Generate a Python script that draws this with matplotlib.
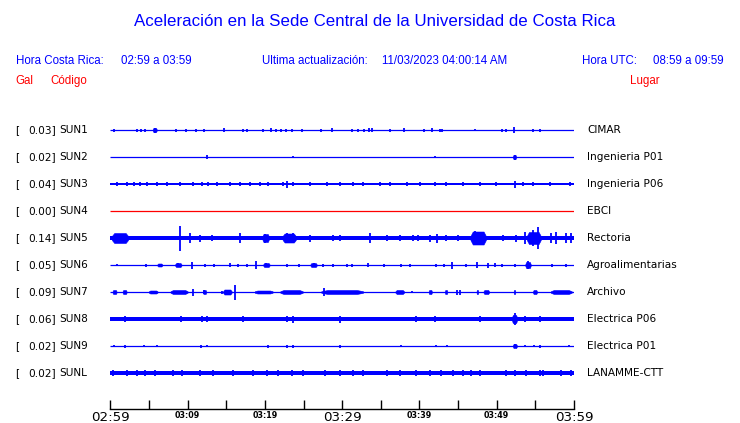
import matplotlib
matplotlib.use("Agg")
import matplotlib.pyplot as plt
from matplotlib.transforms import blended_transform_factory

# station table (top to bottom)
codes = ["SUN1", "SUN2", "SUN3", "SUN4", "SUN5", "SUN6", "SUN7", "SUN8", "SUN9", "SUNL"]
places = ["CIMAR", "Ingenieria P01", "Ingenieria P06", "EBCI", "Rectoria",
          "Agroalimentarias", "Archivo", "Electrica P06", "Electrica P01", "LANAMME-CTT"]
peak_gal = [0.03, 0.02, 0.04, 0.00, 0.14, 0.05, 0.09, 0.06, 0.02, 0.02]

# background noise half-width of each trace (pixels of the original plot)
noise = [0.5, 0.5, 1.3, 0.5, 2.0, 0.5, 0.5, 2.2, 0.5, 2.0]

# bursts: (minutes after 02:59, half-amplitude in px)
sun1_spikes = [(0.52, 1.5), (3.41, 1.5), (3.93, 1.5), (4.53, 1.5), (5.78, 2.5), (8.46, 1.5),
               (9.75, 1.5), (11.08, 1.5), (12.12, 1.5), (14.74, 2), (17.16, 1.5), (17.72, 1.5),
               (19.79, 1.5), (20.74, 2), (21.43, 1.5), (22.04, 1.5), (22.72, 1.5), (23.50, 1.5),
               (24.79, 1.5), (27.21, 1.5), (28.67, 2), (31.29, 1.5), (32.07, 1.5), (32.81, 1.5),
               (33.49, 2), (33.80, 2), (36.17, 1.5), (38.02, 2), (40.61, 1.5), (41.69, 2),
               (42.64, 1.5), (42.98, 1.5), (47.25, 1), (50.74, 1.5), (51.26, 1.5), (52.30, 3),
               (54.70, 1.5), (55.66, 1.5)]
sun2_spikes = [(12.47, 2), (23.66, 1), (42.03, 1), (52.33, 2.5)]
sun3_spikes = [(0.83, 2), (2.12, 2), (3.10, 2), (3.84, 2), (4.71, 2), (6.00, 2), (7.29, 2),
               (9.01, 2), (10.73, 2), (11.82, 2), (12.67, 2), (13.76, 2), (15.48, 2), (16.77, 2),
               (18.07, 2), (19.36, 2), (20.43, 2), (22.37, 2), (22.81, 3.5), (23.66, 2), (25.82, 2),
               (27.98, 2), (29.70, 2), (31.42, 2), (32.72, 2), (34.88, 2), (36.17, 2), (38.33, 2),
               (40.05, 2), (41.99, 2), (43.50, 2), (45.65, 2), (47.81, 2), (49.97, 2), (52.33, 3.5),
               (53.41, 2), (54.70, 2), (56.86, 2), (59.44, 2)]
sun4_spikes = []
sun5_spikes = [(9.01, 12.5), (10.31, 5), (11.60, 3.5), (13.11, 3), (16.77, 5), (20.01, 4.5),
               (22.81, 5), (23.66, 5), (25.82, 3.5), (28.84, 3), (29.70, 3), (33.58, 5), (35.74, 3),
               (37.46, 3), (39.18, 3), (39.83, 3), (41.34, 3.5), (42.21, 4.5), (43.50, 3), (45.00, 3),
               (47.2, 7), (50.82, 3), (52.55, 3.5), (53.63, 6), (54.70, 8), (55.35, 11), (57.08, 5),
               (57.73, 6), (59.02, 5), (59.67, 5)]
sun6_spikes = [(0.83, 1), (4.58, 1.5), (6.43, 1.5), (8.76, 2), (10.53, 3.5), (12.25, 1.5),
               (13.45, 1.5), (15.48, 2), (16.55, 1.5), (17.64, 1.5), (18.80, 4), (20.13, 2),
               (22.81, 1.5), (24.40, 1.5), (26.34, 2), (27.54, 1.5), (28.84, 1.5), (30.57, 1.5),
               (31.22, 1.5), (33.36, 2), (35.43, 1.5), (37.59, 1.5), (38.76, 1.5), (42.08, 1.5),
               (43.15, 1.5), (44.15, 3.5), (46.09, 1.5), (47.46, 3), (48.88, 2.5), (49.75, 2),
               (50.74, 1.5), (52.33, 1.5), (54.05, 4), (57.21, 1.5), (58.93, 1.5)]
sun7_spikes = [(10.66, 3.5), (12.12, 2), (14.41, 1.5), (16.13, 7.5), (27.67, 4), (38.98, 1),
               (44.9, 2.5), (45.3, 2.5)]
sun8_spikes = [(1.90, 3), (9.14, 3), (11.82, 3), (12.47, 3), (17.20, 3), (22.81, 3), (23.66, 3.5),
               (29.70, 3.5), (39.62, 3), (41.99, 3), (47.81, 3), (52.33, 6), (53.63, 3), (55.57, 3)]
sun9_spikes = [(0.52, 1), (1.90, 1.5), (4.36, 1), (6.00, 1), (11.73, 1.5), (12.47, 1), (20.43, 1.5),
               (22.89, 1.5), (23.66, 1.5), (29.70, 1.5), (37.59, 1), (42.08, 1), (43.58, 1),
               (52.33, 2), (53.63, 1), (54.83, 1), (55.57, 1.5), (59.32, 1)]
sunl_spikes = [(0.39, 3), (2.12, 3), (3.41, 3), (4.49, 3), (5.78, 3), (8.15, 3), (9.31, 3),
               (11.60, 3), (13.32, 3), (15.91, 3), (18.49, 3), (20.22, 3), (21.73, 3), (23.46, 3),
               (24.96, 3), (27.77, 3), (29.70, 3), (31.42, 3), (32.72, 3), (35.74, 3), (37.46, 3),
               (39.62, 3), (41.34, 3), (42.85, 3), (44.36, 3), (45.65, 3), (46.73, 3), (47.81, 3),
               (51.26, 3), (52.33, 3), (53.84, 3), (55.57, 3), (55.99, 3), (58.37, 3), (59.67, 3)]

# stretches of sustained shaking: (start min, end min, half-amplitude px)
sun1_bands = [(5.5, 6.0, 2)]
sun2_bands = [(52.1, 52.5, 2)]
sun3_bands = []
sun4_bands = []
sun5_bands = [(0.2, 2.3, 5), (19.7, 20.5, 4), (22.3, 24.0, 4.5), (46.6, 48.6, 6.5), (53.9, 55.7, 6)]
sun6_bands = [(6.1, 6.7, 1.5), (8.4, 9.2, 2), (19.8, 20.6, 2), (25.9, 26.7, 2), (53.7, 54.4, 3)]
sun7_bands = [(0.3, 0.8, 2), (1.6, 2.1, 2), (5.0, 6.1, 1.5), (7.8, 10.0, 2), (12.0, 12.4, 2),
              (14.6, 15.7, 2.5), (18.7, 21.0, 1.5), (22.0, 24.9, 2), (27.3, 32.7, 2),
              (36.9, 38.0, 2), (41.2, 41.6, 2), (43.3, 43.6, 2), (47.4, 47.6, 2), (48.3, 49.0, 2),
              (52.2, 52.4, 2), (54.7, 55.2, 2), (57.0, 59.7, 2)]
sun8_bands = [(52.0, 52.6, 4)]
sun9_bands = [(52.1, 52.6, 2)]
sunl_bands = []

spikes = [sun1_spikes, sun2_spikes, sun3_spikes, sun4_spikes, sun5_spikes,
          sun6_spikes, sun7_spikes, sun8_spikes, sun9_spikes, sunl_spikes]
bands = [sun1_bands, sun2_bands, sun3_bands, sun4_bands, sun5_bands,
         sun6_bands, sun7_bands, sun8_bands, sun9_bands, sunl_bands]

tick_minutes = list(range(0, 61, 5))
tick_text = {0: "02:59", 10: "03:09", 20: "03:19", 30: "03:29", 40: "03:39", 50: "03:49", 60: "03:59"}
big_ticks = ["02:59", "03:29", "03:59"]

W, H = 740, 423
ROW = 27.0  # px between traces
BLUE = "#0000ff"
RED = "#ff0000"
SANS = "Liberation Sans"

fig = plt.figure(figsize=(W / 100, H / 100), dpi=100)
ax = fig.add_axes([110.3 / W, (H - 409) / H, 463.7 / W, 306 / H])
ax.set_xlim(0, 60)
ax.set_ylim(10.333, -1)

for i in range(len(codes)):
    col = RED if peak_gal[i] == 0 else BLUE
    base = noise[i] / ROW
    if noise[i] <= 0.5:
        ax.hlines(i, 0, 60, color=col, lw=0.9)
    else:
        ax.fill_between([0, 60], i - base, i + base, color=col, lw=0, edgecolor="none")
    # slightly tapered envelope for each sustained stretch
    for t0, t1, a in bands[i]:
        w = t1 - t0
        xs = [t0, t0 + 0.15 * w, t1 - 0.15 * w, t1]
        env = [max(base, 0.8 / ROW), a / ROW, a / ROW, max(base, 0.8 / ROW)]
        ax.fill_between(xs, [i - e for e in env], [i + e for e in env], color=col, lw=0.4)
    if spikes[i]:
        ts = [s[0] for s in spikes[i]]
        amps = [s[1] / ROW for s in spikes[i]]
        ax.vlines(ts, [i - a for a in amps], [i + a for a in amps], color=col, lw=1.3)

for side in ["top", "left", "right"]:
    ax.spines[side].set_visible(False)
ax.spines["bottom"].set_linewidth(1.0)
ax.set_yticks([])
ax.set_xticks(tick_minutes)
ax.set_xticklabels([tick_text.get(m, "") for m in tick_minutes])
ax.tick_params(axis="x", direction="in", length=6.5, width=1.0, pad=1.5, colors="black")
for lab in ax.get_xticklabels():
    if lab.get_text() in big_ticks:
        lab.set_fontsize(9.6)
    else:
        lab.set_fontsize(5.8)
        lab.set_fontweight("bold")

# row labels aligned with traces
tr = blended_transform_factory(fig.transFigure, ax.transData)
for i in range(len(codes)):
    ax.text(15 / W, i, "[", transform=tr, fontsize=7.6, va="center", ha="left")
    ax.text(28 / W, i, f"{peak_gal[i]:.2f}]", transform=tr, fontsize=7.6, va="center", ha="left")
    ax.text(59 / W, i, codes[i], transform=tr, fontsize=7.6, va="center", ha="left")
    ax.text(587 / W, i, places[i], transform=tr, fontsize=7.6, va="center", ha="left")

# header texts
fig.text(375 / W, 1 - 22 / H, "Aceleración en la Sede Central de la Universidad de Costa Rica",
         color=BLUE, family=SANS, fontsize=12.2, ha="center", va="center")
hy = 1 - 61 / H
fig.text(15.5 / W, hy, "Hora Costa Rica:", color=BLUE, family=SANS, fontsize=8.3, va="center")
fig.text(121 / W, hy, "02:59 a 03:59", color=BLUE, family=SANS, fontsize=8.3, va="center")
fig.text(262 / W, hy, "Ultima actualización:", color=BLUE, family=SANS, fontsize=8.3, va="center")
fig.text(382 / W, hy, "11/03/2023 04:00:14 AM", color=BLUE, family=SANS, fontsize=8.3, va="center")
fig.text(582 / W, hy, "Hora UTC:", color=BLUE, family=SANS, fontsize=8.3, va="center")
fig.text(653 / W, hy, "08:59 a 09:59", color=BLUE, family=SANS, fontsize=8.3, va="center")
ry = 1 - 81 / H
fig.text(15.5 / W, ry, "Gal", color=RED, family=SANS, fontsize=8.3, va="center")
fig.text(50 / W, ry, "Código", color=RED, family=SANS, fontsize=8.3, va="center")
fig.text(630 / W, ry, "Lugar", color=RED, family=SANS, fontsize=8.3, va="center")

fig.savefig("out.png", dpi=100)
